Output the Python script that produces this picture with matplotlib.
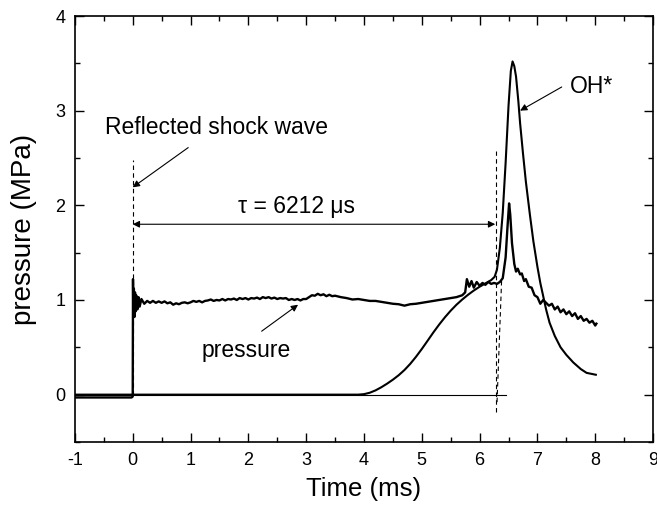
import matplotlib
matplotlib.use("Agg")
import matplotlib.pyplot as plt
import numpy as np

plt.rcParams['font.family'] = ['Liberation Sans', 'DejaVu Sans']
plt.rcParams['axes.unicode_minus'] = False

# Pressure trace (ms, MPa)
t_pressure = [-1.0, -0.5, -0.02, 0.0, 0.005, 0.01, 0.02, 0.03, 0.04, 0.05, 0.06, 0.08,
              0.10, 0.12, 0.15, 0.2, 0.25, 0.3, 0.35, 0.4, 0.45, 0.5, 0.55, 0.6, 0.65,
              0.7, 0.75, 0.8, 0.85, 0.9, 0.95,
              1.0, 1.05, 1.1, 1.15, 1.2, 1.25, 1.3, 1.35, 1.4, 1.45, 1.5, 1.55, 1.6,
              1.65, 1.7, 1.75, 1.8, 1.85, 1.9, 1.95, 2.0, 2.05, 2.1, 2.15, 2.2, 2.25,
              2.3, 2.35, 2.4, 2.45, 2.5, 2.55, 2.6, 2.65, 2.7, 2.75, 2.8, 2.85, 2.9,
              2.95, 3.0, 3.05, 3.1, 3.15, 3.2, 3.25, 3.3, 3.35, 3.4, 3.45, 3.5, 3.6,
              3.7, 3.8, 3.9, 4.0, 4.1, 4.2, 4.3, 4.4, 4.5, 4.6, 4.7, 4.8, 4.9, 5.0,
              5.1, 5.2, 5.3, 5.4, 5.5, 5.6, 5.7, 5.75, 5.78, 5.82, 5.86, 5.9, 5.95,
              6.0, 6.05, 6.1, 6.15, 6.2, 6.25, 6.3, 6.35, 6.4, 6.45, 6.48, 6.51, 6.53,
              6.56, 6.6, 6.63, 6.66, 6.7, 6.73, 6.77, 6.8, 6.85, 6.9, 6.95, 7.0,
              7.05, 7.1, 7.15, 7.2, 7.25, 7.3, 7.35, 7.4, 7.45, 7.5, 7.55, 7.6,
              7.65, 7.7, 7.75, 7.8, 7.85, 7.9, 7.95, 8.0, 8.02]
p_pressure = [-0.03, -0.03, -0.03, -0.02, 1.22, 0.85, 1.12, 0.82, 1.08, 0.88, 1.05, 0.9,
              1.03, 0.93, 1.01, 0.96, 0.99, 0.97, 0.99, 0.97, 0.985, 0.97, 0.985, 0.965, 0.975,
              0.95, 0.965, 0.955, 0.97, 0.975, 0.965,
              0.975, 0.99, 0.98, 0.99, 0.975, 0.99, 0.995, 1.005, 0.99, 1.0, 0.995, 1.01, 0.995,
              1.01, 1.005, 1.015, 1.0, 1.02, 1.01, 1.02, 1.005, 1.02, 1.015, 1.025, 1.01, 1.03,
              1.02, 1.03, 1.015, 1.025, 1.01, 1.02, 1.015, 1.02, 1.0, 1.01, 1.0, 1.01, 0.995,
              1.01, 1.01, 1.03, 1.05, 1.045, 1.065, 1.05, 1.06, 1.04, 1.055, 1.04, 1.045, 1.03,
              1.02, 1.005, 1.01, 1.0, 0.99, 0.99, 0.98, 0.97, 0.96, 0.955, 0.94, 0.955, 0.96, 0.97,
              0.98, 0.99, 1.0, 1.01, 1.02, 1.03, 1.05, 1.08, 1.22, 1.14, 1.2, 1.13, 1.19,
              1.15, 1.18, 1.16, 1.19, 1.17, 1.18, 1.17, 1.19, 1.23, 1.45, 1.75, 2.02, 1.9,
              1.6, 1.38, 1.3, 1.33, 1.27, 1.28, 1.2, 1.22, 1.14, 1.13, 1.05, 1.03,
              0.96, 1.0, 0.97, 0.94, 0.96, 0.9, 0.93, 0.87, 0.9, 0.85, 0.88, 0.83,
              0.86, 0.8, 0.83, 0.78, 0.8, 0.76, 0.78, 0.73, 0.75]

# OH* emission trace (arbitrary units on same axis)
t_oh = [-1.0, 3.9, 4.0, 4.1, 4.2, 4.3, 4.4, 4.5, 4.6, 4.7, 4.8, 4.9, 5.0, 5.1, 5.2,
        5.3, 5.4, 5.5, 5.6, 5.7, 5.8, 5.9, 6.0, 6.1, 6.2, 6.26, 6.3, 6.35, 6.4, 6.45,
        6.5, 6.54, 6.57, 6.6, 6.63, 6.67, 6.7, 6.75, 6.8, 6.87, 6.93, 7.0, 7.05, 7.1,
        7.15, 7.21, 7.3, 7.4, 7.5, 7.62, 7.75, 7.85, 8.01]
y_oh = [0.0, 0.0, 0.005, 0.02, 0.045, 0.078, 0.116, 0.158, 0.205, 0.26, 0.325, 0.40,
        0.482, 0.569, 0.657, 0.74, 0.817, 0.887, 0.95, 1.005, 1.055, 1.10, 1.14, 1.175,
        1.21, 1.245, 1.32, 1.55, 1.92, 2.45, 3.05, 3.42, 3.52, 3.47, 3.36, 3.1, 2.87,
        2.55, 2.25, 1.9, 1.62, 1.35, 1.18, 1.04, 0.9, 0.76, 0.62, 0.5, 0.42, 0.34, 0.27,
        0.23, 0.21]

x_ticks = [-1, 0, 1, 2, 3, 4, 5, 6, 7, 8, 9]
y_ticks = [0, 1, 2, 3, 4]

fig = plt.figure(figsize=(6.57, 5.08), dpi=100)
ax = fig.add_axes([0.114, 0.130, 0.880, 0.8385])

ax.plot(t_pressure, p_pressure, color='black', lw=1.7)
ax.plot(t_oh, y_oh, color='black', lw=1.5)
# baseline
ax.plot([-1.0, 6.45], [0.0, 0.0], color='black', lw=0.8)

# dashed markers
ax.plot([0.0, 0.0], [0.0, 2.48], color='black', lw=0.8, ls=(0, (4, 3)))
ax.plot([6.29, 6.29], [-0.18, 2.57], color='black', lw=0.8, ls=(0, (4, 3)))
ax.plot([6.38, 6.30], [1.2, -0.1], color='black', lw=0.8, ls=(0, (4, 3)))

# tau arrow
ax.annotate('', xy=(0.0, 1.80), xytext=(6.27, 1.80),
            arrowprops=dict(arrowstyle='<|-|>', color='black', lw=0.8,
                            mutation_scale=10, shrinkA=0, shrinkB=0))
ax.text(2.83, 1.99, 'τ = 6212 μs', fontsize=16.5, ha='center', va='center')

ax.text(-0.48, 2.82, 'Reflected shock wave', fontsize=16.5, ha='left', va='center')
ax.annotate('', xy=(0.0, 2.19), xytext=(0.96, 2.61),
            arrowprops=dict(arrowstyle='-|>', color='black', lw=0.8,
                            mutation_scale=10, shrinkA=0, shrinkB=0))

ax.text(7.56, 3.25, 'OH*', fontsize=16.5, ha='left', va='center')
ax.annotate('', xy=(6.70, 3.0), xytext=(7.42, 3.25),
            arrowprops=dict(arrowstyle='-|>', color='black', lw=0.8,
                            mutation_scale=10, shrinkA=0, shrinkB=0))

ax.text(1.19, 0.47, 'pressure', fontsize=16.5, ha='left', va='center')
ax.annotate('', xy=(2.86, 0.95), xytext=(2.23, 0.67),
            arrowprops=dict(arrowstyle='-|>', color='black', lw=0.8,
                            mutation_scale=10, shrinkA=0, shrinkB=0))

ax.set_xlim(-1, 9)
ax.set_ylim(-0.5, 4)
ax.set_xticks(x_ticks)
ax.set_yticks(y_ticks)
ax.set_xticks(np.arange(-0.5, 9, 1.0), minor=True)
ax.set_yticks(np.arange(-0.5, 4, 1.0), minor=True)
ax.tick_params(which='both', direction='in', top=True, right=True,
               labeltop=False, labelright=False, width=1.0, labelsize=13, pad=7)
ax.tick_params(which='major', length=6.5)
ax.tick_params(which='minor', length=3.5)
for s in ax.spines.values():
    s.set_linewidth(1.2)

ax.set_xlabel('Time (ms)', fontsize=18.5, labelpad=6)
ax.set_ylabel('pressure (MPa)', fontsize=20, labelpad=13)

fig.savefig('out.png', dpi=100)
